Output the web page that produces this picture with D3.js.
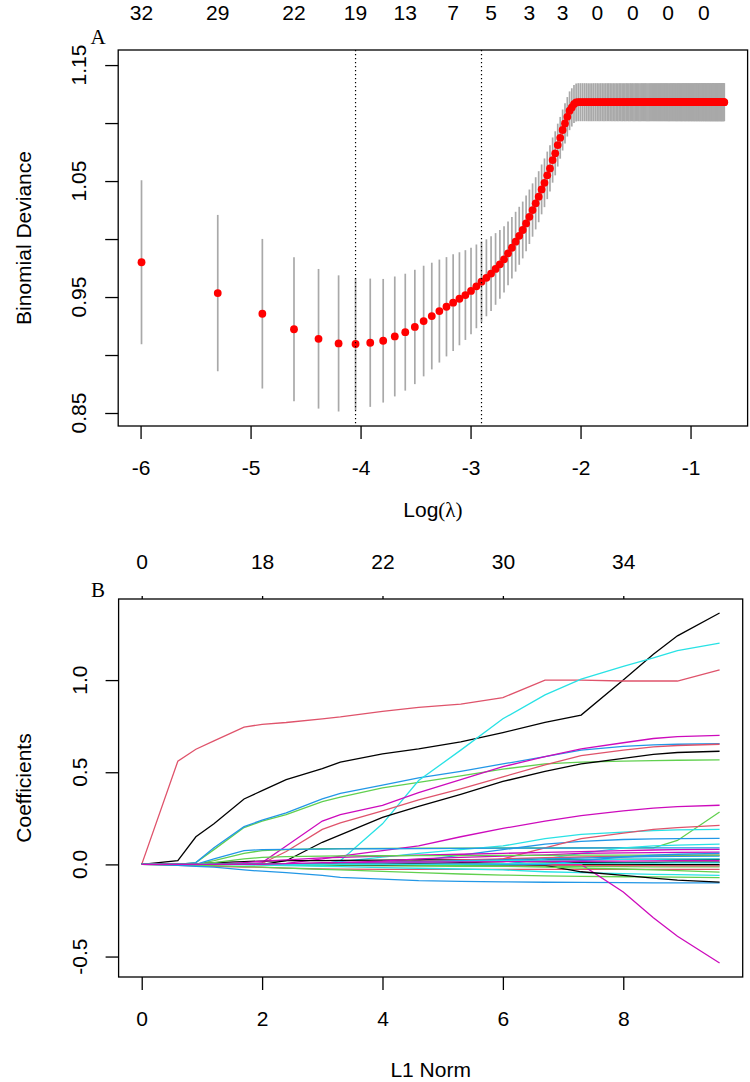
<!DOCTYPE html>
<html><head><meta charset="utf-8">
<script src="https://cdn.jsdelivr.net/npm/d3@7"></script>
<style>body{margin:0;background:#fff} svg{display:block}</style>
</head><body><svg id="c" width="750" height="1082"></svg>
<script>
// ---------- Panel A data : cross-validation curve ----------
const lambda = [
0.0025,0.005,0.0075,0.01,0.0125,0.015,0.0175,0.02,0.0225,0.025,0.0275,0.03,0.0325,0.035,0.0375,0.04,0.0425,0.045,0.0475,0.05,
0.0525,0.055,0.0575,0.06,0.0625,0.065,0.0675,0.07,0.0725,0.075,0.0775,0.08,0.0825,0.085,0.0875,0.09,0.0925,0.095,0.0975,0.1,
0.1025,0.105,0.1075,0.11,0.1125,0.115,0.1175,0.12,0.1225,0.125,0.1275,0.13,0.1325,0.135,0.1375,0.14,0.1425,0.145,0.1475,0.15,
0.1525,0.155,0.1575,0.16,0.1625,0.165,0.1675,0.17,0.1725,0.175,0.1775,0.18,0.1825,0.185,0.1875,0.19,0.1925,0.195,0.1975,0.2,
0.2025,0.205,0.2075,0.21,0.2125,0.215,0.2175,0.22,0.2225,0.225,0.2275,0.23,0.2325,0.235,0.2375,0.24,0.2425,0.245,0.2475,0.25,
0.2525,0.255,0.2575,0.26,0.2625,0.265,0.2675,0.27,0.2725,0.275,0.2775,0.28,0.2825,0.285,0.2875,0.29,0.2925,0.295,0.2975,0.3,
0.3025,0.305,0.3075,0.31,0.3125,0.315,0.3175,0.32,0.3225,0.325,0.3275,0.33,0.3325,0.335,0.3375,0.34,0.3425,0.345,0.3475,0.35,
0.3525,0.355,0.3575,0.36,0.3625,0.365,0.3675,0.37,0.3725,0.375,0.3775,0.38,0.3825,0.385,0.3875,0.39,0.3925,0.395,0.3975,0.4,
0.4025,0.405,0.4075,0.41,0.4125,0.415,0.4175,0.42,0.4225,0.425,0.4275,0.43,0.4325,0.435,0.4375,0.44,0.4425,0.445,0.4475,0.45,
0.4525,0.455,0.4575,0.46,0.4625,0.465,0.4675,0.47,0.4725,0.475,0.4775,0.48,0.4825,0.485,0.4875,0.49,0.4925,0.495,0.4975,0.5];
const cvm = [
0.980,0.9534,0.9356,0.9222,0.9140,0.9100,0.9095,0.9106,0.9123,0.9160,0.9197,0.9242,0.9293,0.9336,0.9379,0.9416,0.9451,0.9485,0.9517,0.9553,
0.9592,0.9632,0.9666,0.9702,0.9742,0.9782,0.9825,0.9877,0.9925,0.9977,1.0028,1.0078,1.0135,1.0192,1.0250,1.0308,1.0365,1.0428,1.0485,1.0549,
1.0609,1.0681,1.0739,1.0810,1.0873,1.0940,1.0997,1.1054,1.1106,1.1135,1.1164,1.1178,1.118,1.118,1.118,1.118,1.118,1.118,1.118,1.118,
1.118,1.118,1.118,1.118,1.118,1.118,1.118,1.118,1.118,1.118,1.118,1.118,1.118,1.118,1.118,1.118,1.118,1.118,1.118,1.118,
1.118,1.118,1.118,1.118,1.118,1.118,1.118,1.118,1.118,1.118,1.118,1.118,1.118,1.118,1.118,1.118,1.118,1.118,1.118,1.118,
1.118,1.118,1.118,1.118,1.118,1.118,1.118,1.118,1.118,1.118,1.118,1.118,1.118,1.118,1.118,1.118,1.118,1.118,1.118,1.118,
1.118,1.118,1.118,1.118,1.118,1.118,1.118,1.118,1.118,1.118,1.118,1.118,1.118,1.118,1.118,1.118,1.118,1.118,1.118,1.118,
1.118,1.118,1.118,1.118,1.118,1.118,1.118,1.118,1.118,1.118,1.118,1.118,1.118,1.118,1.118,1.118,1.118,1.118,1.118,1.118,
1.118,1.118,1.118,1.118,1.118,1.118,1.118,1.118,1.118,1.118,1.118,1.118,1.118,1.118,1.118,1.118,1.118,1.118,1.118,1.118,
1.118,1.118,1.118,1.118,1.118,1.118,1.118,1.118,1.118,1.118,1.118,1.118,1.118,1.118,1.118,1.118,1.118,1.118,1.118,1.118];
const cvsd = [
0.0707,0.0674,0.0645,0.0620,0.0602,0.0587,0.0570,0.0553,0.0533,0.0517,0.0504,0.0493,0.0477,0.0460,0.0444,0.0428,0.0417,0.0401,0.0387,0.0373,
0.0361,0.0347,0.0332,0.0322,0.0309,0.0296,0.0285,0.0275,0.0265,0.0258,0.0250,0.0245,0.0240,0.0235,0.0230,0.0225,0.0220,0.0215,0.0210,0.0205,
0.0200,0.0195,0.0190,0.0185,0.0180,0.0177,0.0173,0.0170,0.0167,0.0165,0.0164,0.0164,0.0164,0.0164,0.0164,0.0164,0.0164,0.0164,0.0164,0.0164,
0.0164,0.0164,0.0164,0.0164,0.0164,0.0164,0.0164,0.0164,0.0164,0.0164,0.0164,0.0164,0.0164,0.0164,0.0164,0.0164,0.0164,0.0164,0.0164,0.0164,
0.0164,0.0164,0.0164,0.0164,0.0164,0.0164,0.0164,0.0164,0.0164,0.0164,0.0164,0.0164,0.0164,0.0164,0.0164,0.0164,0.0164,0.0164,0.0164,0.0164,
0.0164,0.0164,0.0164,0.0164,0.0164,0.0164,0.0164,0.0164,0.0164,0.0164,0.0164,0.0164,0.0164,0.0164,0.0164,0.0164,0.0164,0.0164,0.0164,0.0164,
0.0164,0.0164,0.0164,0.0164,0.0164,0.0164,0.0164,0.0164,0.0164,0.0164,0.0164,0.0164,0.0164,0.0164,0.0164,0.0164,0.0164,0.0164,0.0164,0.0164,
0.0164,0.0164,0.0164,0.0164,0.0164,0.0164,0.0164,0.0164,0.0164,0.0164,0.0164,0.0164,0.0164,0.0164,0.0164,0.0164,0.0164,0.0164,0.0164,0.0164,
0.0164,0.0164,0.0164,0.0164,0.0164,0.0164,0.0164,0.0164,0.0164,0.0164,0.0164,0.0164,0.0164,0.0164,0.0164,0.0164,0.0164,0.0164,0.0164,0.0164,
0.0164,0.0164,0.0164,0.0164,0.0164,0.0164,0.0164,0.0164,0.0164,0.0164,0.0164,0.0164,0.0164,0.0164,0.0164,0.0164,0.0164,0.0164,0.0164,0.0164];
const nzLambda = [0.0025,0.005,0.01,0.0175,0.0275,0.0425,0.06,0.085,0.115,0.1575,0.2175,0.3,0.415];
const nzLabels = ["32","29","22","19","13","7","5","3","3","0","0","0","0"];
const logLambdaTicks = [-6,-5,-4,-3,-2,-1];
const devTicks = [0.85,0.90,0.95,1.00,1.05,1.10,1.15];
const devTickLabels = ["0.85","","0.95","","1.05","","1.15"];

// ---------- Panel B data : coefficient paths ----------
const l1Norm = [0,0.6,0.9,1.2,1.7,2.0,2.4,3.0,3.3,4.0,4.6,5.3,6.0,6.7,7.3,8.0,8.5,8.9,9.6];
const coefPaths = [
[0,0.02,0.15,0.22,0.355,0.40,0.46,0.52,0.555,0.60,0.627,0.665,0.715,0.77,0.81,1.0,1.14,1.24,1.364],
[0,0.56,0.625,0.67,0.745,0.76,0.77,0.79,0.80,0.83,0.852,0.87,0.905,1.0,1.0,0.995,0.995,0.995,1.056],
[0,0,0.01,0.08,0.20,0.235,0.27,0.34,0.365,0.415,0.445,0.48,0.517,0.545,0.555,0.56,0.563,0.565,0.567],
[0,0,0.01,0.09,0.205,0.24,0.28,0.355,0.385,0.43,0.47,0.505,0.545,0.585,0.62,0.64,0.648,0.652,0.655],
[0,0,0,0,0,0,0,0,0.02,0.22,0.455,0.62,0.79,0.92,1.005,1.075,1.12,1.16,1.20],
[0,0,0,0,0,0.01,0.10,0.235,0.27,0.32,0.39,0.46,0.53,0.585,0.627,0.66,0.683,0.693,0.70],
[0,0,0,0,0,0,0.02,0.12,0.16,0.255,0.315,0.38,0.45,0.505,0.545,0.575,0.597,0.607,0.614],
[0,0,0,0,0,0.005,0.07,0.19,0.225,0.29,0.35,0.41,0.475,0.54,0.59,0.62,0.638,0.645,0.652],
[0,0,0,0.02,0.06,0.075,0.08,0.085,0.086,0.087,0.088,0.088,0.089,0.089,0.09,0.09,0.09,0.13,0.284],
[0,0,0,0,0,0,0,0,0,0,0.02,0.05,0.08,0.11,0.125,0.135,0.138,0.14,0.141],
[0,0,0,0,0,0,0,0.005,0.015,0.04,0.06,0.08,0.10,0.14,0.163,0.175,0.183,0.187,0.19],
[0,0,0,0,0,0,0.005,0.03,0.045,0.075,0.10,0.15,0.195,0.235,0.265,0.29,0.305,0.313,0.321],
[0,0,0,0.01,0.015,0.018,0.02,0.021,0.022,0.023,0.024,0.025,0.025,0.026,0.026,0.027,0.027,0.027,0.027],
[0,0,0,0,0,0,0,0,0,0,0,0,0.03,0.09,0.14,0.17,0.19,0.20,0.212],
[0,0,0,0,0,-0.002,-0.004,-0.006,-0.007,-0.008,-0.009,-0.01,-0.011,-0.011,-0.012,-0.012,-0.013,-0.013,-0.013],
[0,0,0,0.03,0.075,0.08,0.082,0.083,0.084,0.085,0.086,0.087,0.088,0.088,0.089,0.09,0.09,0.09,0.09],
[0,0,0,0,0,0,0,0,0,0,0,0,0,0.03,0.06,0.09,0.10,0.105,0.11],
[0,0,0,0,0.01,0.018,0.025,0.035,0.038,0.045,0.05,0.055,0.06,0.065,0.069,0.075,0.078,0.08,0.082],
[0,0,0,0,0,0,0,0,-0.001,-0.002,-0.002,-0.002,-0.002,-0.002,-0.002,-0.002,-0.002,-0.002,-0.002],
[0,-0.005,-0.008,-0.01,-0.014,-0.016,-0.02,-0.025,-0.026,-0.027,-0.027,-0.027,-0.027,-0.027,-0.027,-0.027,-0.027,-0.027,-0.027],
[0,-0.002,-0.004,-0.007,-0.012,-0.015,-0.02,-0.027,-0.03,-0.038,-0.045,-0.052,-0.058,-0.062,-0.065,-0.067,-0.068,-0.069,-0.072],
[0,-0.005,-0.01,-0.015,-0.03,-0.037,-0.045,-0.06,-0.07,-0.08,-0.088,-0.092,-0.095,-0.097,-0.098,-0.099,-0.1,-0.1,-0.1],
[0,0,0,0,-0.002,-0.004,-0.007,-0.01,-0.012,-0.017,-0.021,-0.025,-0.03,-0.04,-0.045,-0.05,-0.054,-0.056,-0.06],
[0,0,0,0,0,0,0,0,0,0,0,0,0,0,0,-0.15,-0.29,-0.39,-0.535],
[0,0,0,0,0,0,0,0,0,0,0.005,0.01,0.005,-0.005,-0.04,-0.06,-0.075,-0.085,-0.096],
[0,0,0,0,0,0,0,0.002,0.005,0.012,0.018,0.024,0.03,0.036,0.04,0.044,0.047,0.048,0.05],
[0,0,0,0,0,0,0,0,0,0,-0.004,-0.007,-0.01,-0.015,-0.02,-0.025,-0.03,-0.034,-0.042],
[0,0,0,0,0,0,0,0,0.003,0.01,0.015,0.02,0.025,0.03,0.034,0.04,0.042,0.044,0.045],
[0,0,0,0,0,0,0,0.004,0.006,0.01,0.013,0.016,0.02,0.023,0.025,0.027,0.028,0.029,0.03],
[0,0,0,0,0,0,0,0,0.01,0.018,0.03,0.038,0.045,0.052,0.06,0.063,0.064,0.065,0.067],
[0,0,0,0,0,0,0,0,0,0,0,0,0.004,0.007,0.009,0.01,0.011,0.012,0.012],
[0,0,0,0,0,0,0,0,0,0,0,0,0,-0.003,-0.005,-0.006,-0.007,-0.008,-0.008],
[0,0,0,0.01,0.03,0.038,0.042,0.045,0.046,0.047,0.048,0.048,0.049,0.049,0.05,0.05,0.05,0.05,0.05],
[0,0,0,0,0,0,0,0,0,0,0,0,0,0,0.02,0.04,0.05,0.055,0.06],
[0,0,0,0,0,0,0,0,0,0,0,0.002,0.004,0.005,0.006,0.007,0.007,0.008,0.008],
[0,0,0,0,0,0,0.004,0.01,0.011,0.012,0.013,0.014,0.015,0.016,0.017,0.018,0.019,0.02,0.02]
];
const dfAtL1 = [0,2,4,6,8];
const dfLabels = ["0","18","22","30","34"];
const l1Ticks = [0,2,4,6,8];
const coefTicks = [-0.5,0,0.5,1.0];
const coefTickLabels = ["-0.5","0.0","0.5","1.0"];

// ---------- drawing ----------
const SANS = "'Liberation Sans', Arial, sans-serif";
const SERIF = "'Liberation Serif', 'Times New Roman', serif";
const FS = 21;
const rPalette = ["#000000","#DF536B","#61D04F","#2297E6","#28E2E5","#CD0BBC"];
const svg = d3.select("#c");
svg.append("rect").attr("width",750).attr("height",1082).attr("fill","#fff");

function pad4(ext){ const p=(ext[1]-ext[0])*0.04; return [ext[0]-p, ext[1]+p]; }

function styleAxis(g){
  g.select(".domain").remove();
  g.attr("font-family",SANS).attr("font-size",FS);
  g.selectAll("line").attr("stroke","#000").attr("stroke-width",1.3);
  g.selectAll("text").attr("fill","#000");
}
function yLabels(g, p, scale, vals, labs){
  g.selectAll("text.yl").data(vals).join("text").attr("class","yl")
    .attr("transform",d=>`translate(${p.left-32},${scale(d)}) rotate(-90)`)
    .attr("text-anchor","middle").attr("font-family",SANS).attr("font-size",FS)
    .text((d,i)=>labs[i]);
}
function box(g,p){
  g.append("rect").attr("x",p.left).attr("y",p.top).attr("width",p.right-p.left)
   .attr("height",p.bottom-p.top).attr("fill","none").attr("stroke","#000").attr("stroke-width",1.3);
}

// ===== Panel A =====
const pA = {left:118.2, right:747.6, top:50, bottom:426};
const logLam = lambda.map(Math.log);
const xA = d3.scaleLinear().domain(pad4(d3.extent(logLam))).range([pA.left,pA.right]);
const yA = d3.scaleLinear().domain([0.8388,1.163]).range([pA.bottom,pA.top]);
const gA = svg.append("g");

gA.append("g").selectAll("line").data(lambda).join("line")
  .attr("x1",(d,i)=>xA(logLam[i])).attr("x2",(d,i)=>xA(logLam[i]))
  .attr("y1",(d,i)=>yA(cvm[i]+cvsd[i])).attr("y2",(d,i)=>yA(cvm[i]-cvsd[i]))
  .attr("stroke","#A9A9A9").attr("stroke-width",1.7);
gA.append("g").selectAll("circle").data(lambda).join("circle")
  .attr("cx",(d,i)=>xA(logLam[i])).attr("cy",(d,i)=>yA(cvm[i])).attr("r",3.9).attr("fill","#FF0000");

// lambda.min and lambda.1se from the data
const iMin = d3.minIndex(cvm);
const thr = cvm[iMin]+cvsd[iMin];
let i1se = iMin;
cvm.forEach((v,i)=>{ if(v<=thr && lambda[i]>lambda[i1se]) i1se=i; });
[iMin,i1se].forEach(i=>{
  gA.append("line").attr("x1",xA(logLam[i])).attr("x2",xA(logLam[i]))
    .attr("y1",pA.top).attr("y2",pA.bottom).attr("stroke","#000").attr("stroke-width",1.2)
    .attr("stroke-dasharray","1.3,2.7");
});
box(gA,pA);

const axA = gA.append("g").attr("transform",`translate(0,${pA.bottom})`)
  .call(d3.axisBottom(xA).tickValues(logLambdaTicks).tickSize(13).tickPadding(21).tickFormat(d=>String(d)));
styleAxis(axA);
const ayA = gA.append("g").attr("transform",`translate(${pA.left},0)`)
  .call(d3.axisLeft(yA).tickValues(devTicks).tickSize(13).tickFormat(""));
styleAxis(ayA);
yLabels(gA,pA,yA,devTicks,devTickLabels);

gA.selectAll("text.nz").data(nzLambda).join("text").attr("class","nz")
  .attr("x",d=>xA(Math.log(d))).attr("y",pA.top-30).attr("text-anchor","middle")
  .attr("font-family",SANS).attr("font-size",FS).text((d,i)=>nzLabels[i]);

const tA = gA.append("text").attr("x",(pA.left+pA.right)/2).attr("y",517).attr("text-anchor","middle")
  .attr("font-family",SANS).attr("font-size",FS);
tA.append("tspan").text("Log");
tA.append("tspan").attr("font-family",SERIF).text("(λ)");
gA.append("text").attr("transform",`translate(31,${(pA.top+pA.bottom)/2}) rotate(-90)`)
  .attr("text-anchor","middle").attr("font-family",SANS).attr("font-size",FS).text("Binomial Deviance");
gA.append("text").attr("x",98).attr("y",44).attr("text-anchor","middle")
  .attr("font-family",SERIF).attr("font-size",FS).text("A");

// ===== Panel B =====
const pB = {left:118.6, right:742.7, top:599, bottom:977};
const allCoef = coefPaths.flat();
const xB = d3.scaleLinear().domain(pad4(d3.extent(l1Norm))).range([pB.left,pB.right]);
const yB = d3.scaleLinear().domain(pad4(d3.extent(allCoef))).range([pB.bottom,pB.top]);
const gB = svg.append("g");
const line = d3.line().x((d,j)=>xB(l1Norm[j])).y(d=>yB(d));
gB.append("g").selectAll("path").data(coefPaths).join("path")
  .attr("d",line).attr("fill","none").attr("stroke",(d,i)=>rPalette[i%6]).attr("stroke-width",1.3);
box(gB,pB);

const axB = gB.append("g").attr("transform",`translate(0,${pB.bottom})`)
  .call(d3.axisBottom(xB).tickValues(l1Ticks).tickSize(13).tickPadding(21).tickFormat(d=>String(d)));
styleAxis(axB);
const axB3 = gB.append("g").attr("transform",`translate(0,${pB.top})`)
  .call(d3.axisTop(xB).tickValues(dfAtL1).tickSize(3).tickPadding(27).tickFormat((d,i)=>dfLabels[i]));
styleAxis(axB3);
const ayB = gB.append("g").attr("transform",`translate(${pB.left},0)`)
  .call(d3.axisLeft(yB).tickValues(coefTicks).tickSize(13).tickFormat(""));
styleAxis(ayB);
yLabels(gB,pB,yB,coefTicks,coefTickLabels);

gB.append("text").attr("x",(pB.left+pB.right)/2).attr("y",1077).attr("text-anchor","middle")
  .attr("font-family",SANS).attr("font-size",FS).text("L1 Norm");
gB.append("text").attr("transform",`translate(31,${(pB.top+pB.bottom)/2}) rotate(-90)`)
  .attr("text-anchor","middle").attr("font-family",SANS).attr("font-size",FS).text("Coefficients");
gB.append("text").attr("x",98).attr("y",597).attr("text-anchor","middle")
  .attr("font-family",SERIF).attr("font-size",FS).text("B");
</script></body></html>
